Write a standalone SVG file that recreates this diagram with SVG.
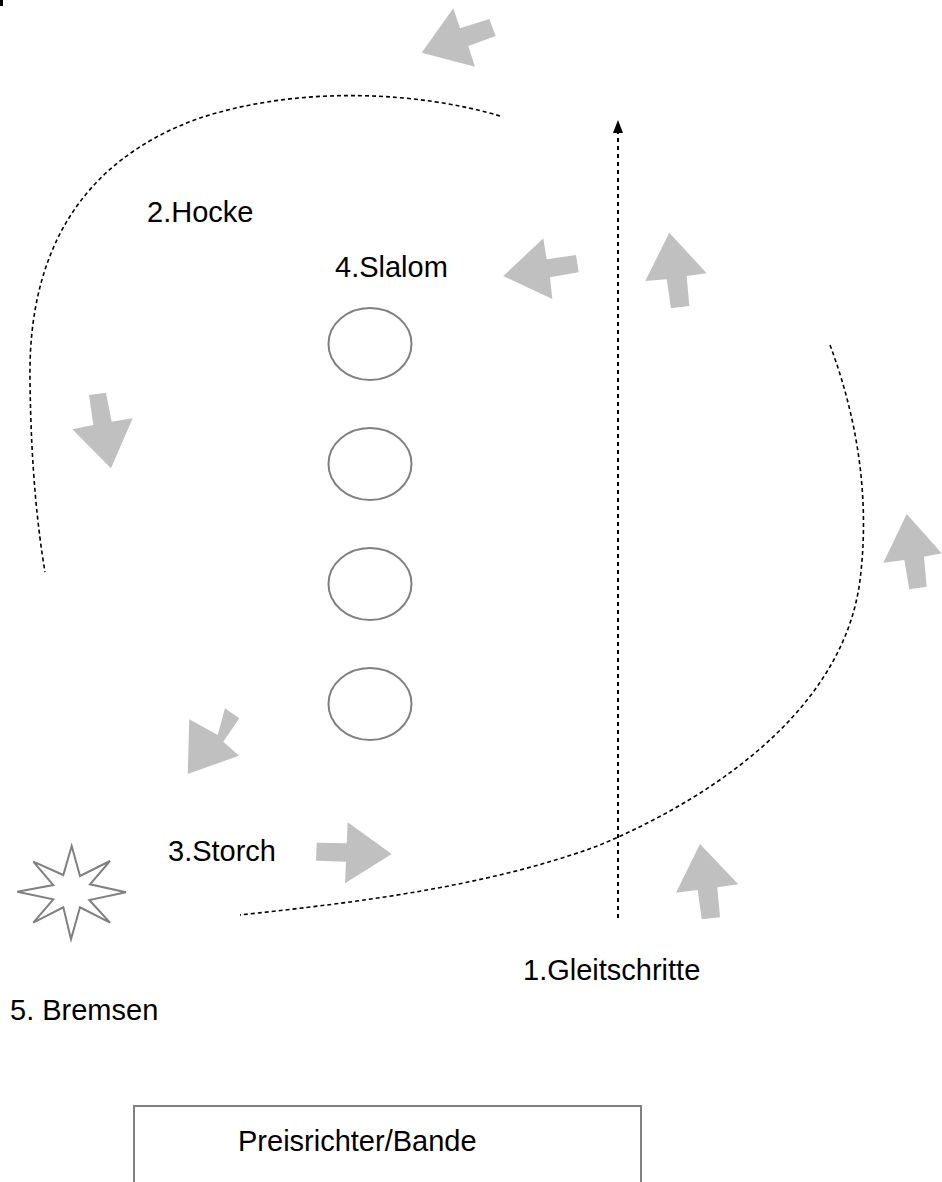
<svg xmlns="http://www.w3.org/2000/svg" width="942" height="1182" viewBox="0 0 942 1182">
<style>
.lbl{font-family:"Liberation Sans",Arial,sans-serif;font-size:29px;fill:#000}
.blk{fill:#c0c0c0;stroke:none}
.ring{fill:none;stroke:#808080;stroke-width:2}
.dot{fill:none;stroke:#000;stroke-width:1.6;stroke-dasharray:4 3}
</style>
<defs>
<marker id="ah" markerWidth="10" markerHeight="13" refX="5" refY="1" orient="auto-start-reverse" markerUnits="userSpaceOnUse" viewBox="0 0 10 13">
<path d="M5,0 L10,13 L0,13 Z" fill="#000"/>
</marker>
</defs>
<rect x="0" y="0" width="3" height="6" fill="#000"/>
<g id="connectors">
<path class="dot" d="M 500 116 C 420 92, 300 85, 200 118 C 75 162, 28 260, 30 380 C 31 470, 38 530, 45 572"/>
<path class="dot" d="M 830 345 C 858 420, 870 500, 860 580 C 845 700, 730 790, 600 845 C 480 890, 330 905, 240 915"/>
<line x1="618" y1="918" x2="618" y2="133" stroke="#000" stroke-width="2" stroke-dasharray="4 4"/>
<path d="M618,120 L623,133 L613,133 Z" fill="#000"/>
</g>
<g id="arrows">
<polygon class="blk" points="421.7,52.7 453.3,8.3 460,28.3 489.3,19 495.7,36 468.3,46 475,66.7"/>
<polygon class="blk" points="503.3,276 543.3,238.3 546.7,259.3 576,255 578.7,272.3 550,277.3 552.3,299"/>
<polygon class="blk" points="669.3,232.7 706.7,273.3 686.7,276 689.3,306 671,308.3 666.7,279.3 645.3,281"/>
<polygon class="blk" points="111,468.3 72.3,429.3 93.3,425 89,395 106,392.7 111.7,421.7 132.7,418.3"/>
<polygon class="blk" points="906.7,514 941.7,553.3 924,556.7 926.7,586.7 909.3,589.3 904.3,560 883.3,562.7"/>
<polygon class="blk" points="187.7,774 189.3,719.3 217.7,735 225,708.3 239.3,718.3 223.3,741.7 239,755.7"/>
<polygon class="blk" points="391.7,854 347.7,822.3 346.7,843.3 316.7,842.7 316,860.7 346,861.7 345,883.3"/>
<polygon class="blk" points="700,844 738.3,884.3 717.3,887.3 720,917.3 701.7,919.3 697.7,890 676,892.7"/>
</g>
<g id="slalom-cones">
<ellipse class="ring" cx="370" cy="344" rx="41.5" ry="36"/>
<ellipse class="ring" cx="370" cy="464" rx="41.5" ry="36"/>
<ellipse class="ring" cx="370" cy="584" rx="41.5" ry="36"/>
<ellipse class="ring" cx="370" cy="704" rx="41.5" ry="36"/>
</g>
<g id="star">
<polygon fill="#fff" stroke="#808080" stroke-width="2" points="71.7,846 80,876 110,861 90,884.3 126,892.3 89.3,900 110,922.7 80,907.3 71,939.3 63.3,907.3 33.3,922.7 53.3,899.3 17.3,891.7 53.3,885 33.3,861.7 63.3,875"/>
</g>
<g id="label-hocke"><text class="lbl" x="147" y="222">2.Hocke</text></g>
<g id="label-slalom"><text class="lbl" x="335" y="277">4.Slalom</text></g>
<g id="label-storch"><text class="lbl" x="168" y="861">3.Storch</text></g>
<g id="label-gleitschritte"><text class="lbl" x="523" y="980">1.Gleitschritte</text></g>
<g id="label-bremsen"><text class="lbl" x="10" y="1020">5. Bremsen</text></g>
<g id="judges">
<rect x="134" y="1106" width="507" height="100" fill="none" stroke="#808080" stroke-width="2"/>
<text class="lbl" x="238" y="1151">Preisrichter/Bande</text>
</g>
</svg>
